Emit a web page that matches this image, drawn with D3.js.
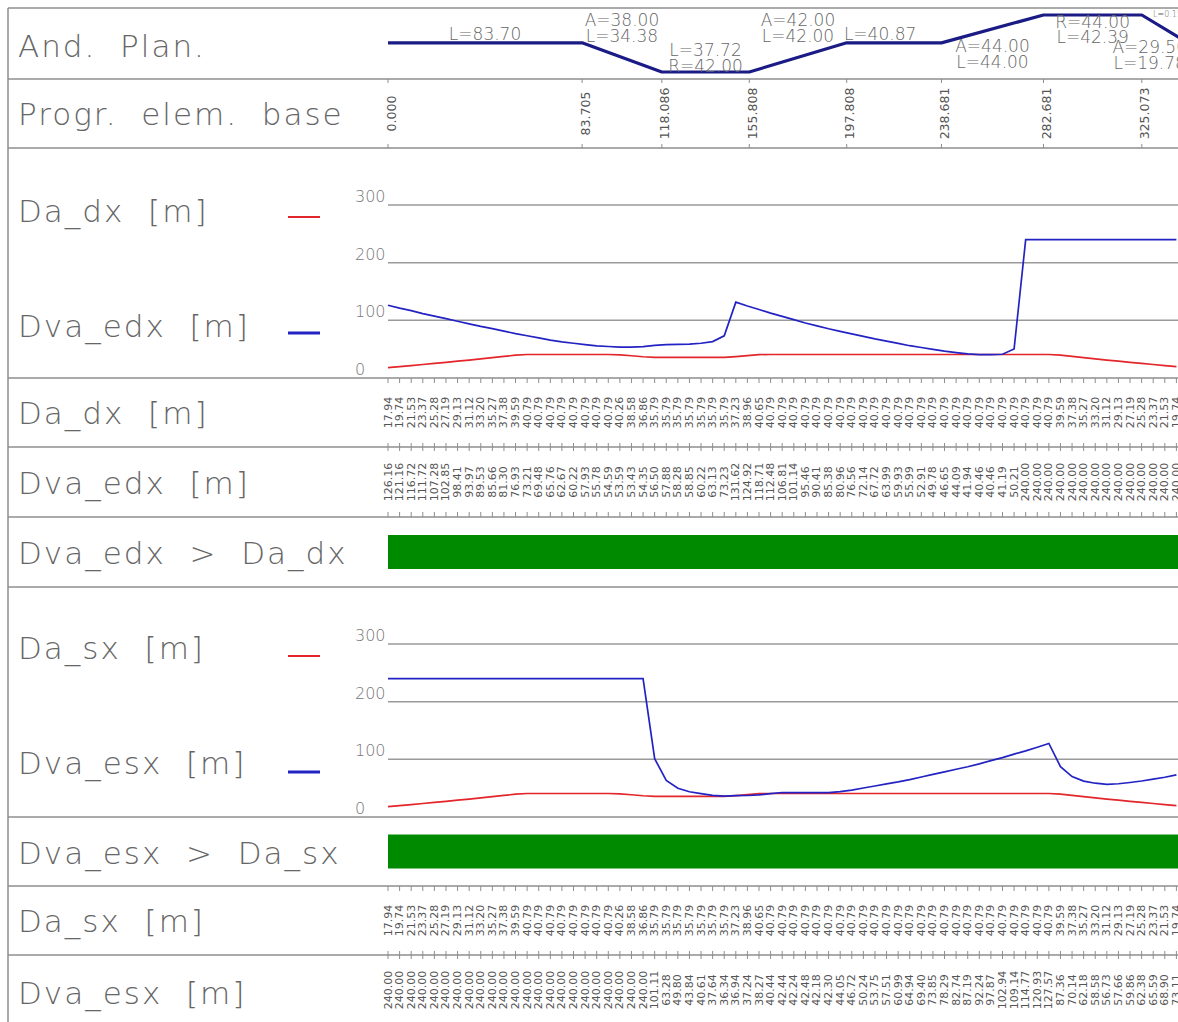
<!DOCTYPE html>
<html>
<head>
<meta charset="utf-8">
<script src="https://cdn.jsdelivr.net/npm/d3@7"></script>
<style>
  body { margin: 0; background: #fff; overflow: hidden; }
  svg { display: block; }
  .row-title { font-family: "DejaVu Sans", sans-serif; font-weight: 200; font-size: 31px; fill: #666; letter-spacing: 2px; white-space: pre; }
  .plan-label { font-family: "DejaVu Sans", sans-serif; font-weight: 200; font-size: 17px; fill: #666; }
  .base-label { font-family: "DejaVu Sans", sans-serif; font-size: 12.5px; fill: #555; }
  .value-label { font-family: "DejaVu Sans", sans-serif; font-size: 11px; fill: #555; }
  .y-label { font-family: "DejaVu Sans", sans-serif; font-weight: 200; font-size: 16px; fill: #777; }
  .rule { stroke: #8e8e8e; stroke-width: 1.5; fill: none; }
  .grid { stroke: #9a9a9a; stroke-width: 1.5; }
</style>
</head>
<body>
<div id="chart"></div>
<script>
/* global d3 */

// data
const stations = d3.range(0, 345, 5); // one check every 5 m, 0 ... 340 visible

const daDx = [17.94, 19.74, 21.53, 23.37, 25.28, 27.19, 29.13, 31.12, 33.20, 35.27, 37.38, 39.59,
  40.79, 40.79, 40.79, 40.79, 40.79, 40.79, 40.79, 40.79, 40.26, 38.58, 36.86,
  35.79, 35.79, 35.79, 35.79, 35.79, 35.79, 35.79, 37.23, 38.96, 40.65,
  40.79, 40.79, 40.79, 40.79, 40.79, 40.79, 40.79, 40.79, 40.79, 40.79, 40.79, 40.79, 40.79,
  40.79, 40.79, 40.79, 40.79, 40.79, 40.79, 40.79, 40.79, 40.79, 40.79, 40.79, 40.79,
  39.59, 37.38, 35.27, 33.20, 31.12, 29.13, 27.19, 25.28, 23.37, 21.53, 19.74];

const dvaEdx = [126.16, 121.16, 116.72, 111.72, 107.28, 102.85, 98.41, 93.97, 89.53, 85.66,
  81.30, 76.93, 73.21, 69.48, 65.76, 62.67, 60.22, 57.93, 55.78, 54.59,
  53.59, 53.43, 54.35, 56.50, 57.88, 58.28, 58.85, 60.22, 63.13, 73.23,
  131.62, 124.92, 118.71, 112.48, 106.81, 101.14, 95.46, 90.41, 85.38, 80.96,
  76.56, 72.14, 67.72, 63.99, 59.93, 55.99, 52.91, 49.78, 46.65, 44.09,
  41.94, 40.46, 40.46, 41.19, 50.21,
  240.00, 240.00, 240.00, 240.00, 240.00, 240.00, 240.00, 240.00, 240.00, 240.00,
  240.00, 240.00, 240.00, 240.00];

const daSx = [17.94, 19.74, 21.53, 23.37, 25.28, 27.19, 29.13, 31.12, 33.20, 35.27, 37.38, 39.59,
  40.79, 40.79, 40.79, 40.79, 40.79, 40.79, 40.79, 40.79, 40.26, 38.58, 36.86,
  35.79, 35.79, 35.79, 35.79, 35.79, 35.79, 35.79, 37.23, 38.96, 40.65,
  40.79, 40.79, 40.79, 40.79, 40.79, 40.79, 40.79, 40.79, 40.79, 40.79, 40.79, 40.79, 40.79,
  40.79, 40.79, 40.79, 40.79, 40.79, 40.79, 40.79, 40.79, 40.79, 40.79, 40.79, 40.79,
  39.59, 37.38, 35.27, 33.20, 31.12, 29.13, 27.19, 25.28, 23.37, 21.53, 19.74];

const dvaEsx = [240.00, 240.00, 240.00, 240.00, 240.00, 240.00, 240.00, 240.00, 240.00, 240.00,
  240.00, 240.00, 240.00, 240.00, 240.00, 240.00, 240.00, 240.00, 240.00, 240.00,
  240.00, 240.00, 240.00,
  101.11, 63.28, 49.80, 43.84, 40.61, 37.64, 36.34, 36.94, 37.24, 38.27,
  40.44, 42.44, 42.24, 42.48, 42.18, 42.30, 44.05, 46.72, 50.24, 53.75,
  57.51, 60.99, 64.94, 69.40, 73.85, 78.29, 82.74, 87.19, 92.24, 97.87,
  102.94, 109.14, 114.77, 120.93, 127.57, 87.36, 70.14, 62.18, 58.58, 56.73,
  57.66, 59.86, 62.38, 65.59, 68.90, 73.11];

// plan elements (progressive of each vertex, signed radius, null = straight)
const baseStations = [0, 83.705, 118.086, 155.808, 197.808, 238.681, 282.681, 325.073, 345.000];
const planStations = [0, 83.705, 118.086, 155.808, 197.808, 238.681, 282.681, 325.073, 344.853, 345.000];
const planRadius = [null, null, -42, -42, null, null, 44, 44, null, null];
const planLabels = [["L=83.70"], ["A=38.00", "L=34.38"], ["L=37.72", "R=42.00"], ["A=42.00", "L=42.00"],
  ["L=40.87"], ["A=44.00", "L=44.00"], ["R=44.00", "L=42.39"], ["A=29.50", "L=19.78"], ["L=0.15"]];

const yTicks = [0, 100, 200, 300];

// dimensions
const WIDTH = 1178;
const HEIGHT = 1022;
const LEFT = 8;
const TOP = 8;
const PLOT_LEFT = 388;

// layout of the bands, top and bottom of each
const bands = {
  plan: [TOP, 79],
  base: [79, 148],
  chartDx: [148, 378],
  rowDaDx: [378, 447],
  rowDvaEdx: [447, 517],
  checkDx: [517, 587],
  chartSx: [587, 817],
  checkSx: [817, 886],
  rowDaSx: [886, 955],
  rowDvaEsx: [955, 1025],
};

// where the plan labels sit (baseline of each line, horizontal nudge)
const planLabelY = [[40], [26, 42], [56, 72], [26, 42], [40], [52, 68], [28, 43], [53, 69], [17]];
const planLabelDx = [0, 0, 0, 0, -14, 0, 0, -15, 0];

const RED = '#e3262b';
const BLUE = '#2323c4';
const NAVY = '#1b1b86';
const GREEN = '#008a00';

// scales
const x = d3.scaleLinear().domain([0, 345]).range([PLOT_LEFT, 1188]);
const yPlan = d3.scaleLinear().domain([-1 / 42, 1 / 44]).range([72, 15]);
const yDx = d3.scaleLinear().domain([0, 300]).range([bands.chartDx[1], 205]);
const ySx = d3.scaleLinear().domain([0, 300]).range([bands.chartSx[1], 644]);

const fmt2 = d3.format('.2f');
const fmt3 = d3.format('.3f');

const $svg = d3.select('#chart').append('svg')
  .attr('width', WIDTH)
  .attr('height', HEIGHT);

// frame and row rules
const $rules = $svg.append('g').attr('class', 'g-rules');
$rules.append('line').attr('class', 'rule')
  .attr('x1', LEFT).attr('x2', WIDTH).attr('y1', TOP).attr('y2', TOP);
$rules.append('line').attr('class', 'rule')
  .attr('x1', LEFT).attr('x2', LEFT).attr('y1', TOP).attr('y2', HEIGHT);
$rules.selectAll('line.row')
  .data(Object.values(bands).map(b => b[1]).filter(v => v < HEIGHT))
  .join('line')
  .attr('class', 'rule row')
  .attr('x1', LEFT).attr('x2', WIDTH)
  .attr('y1', d => d).attr('y2', d => d);

// row titles
const titles = [
  ['And.  Plan.', bands.plan[0] + 49],
  ['Progr.  elem.  base', bands.base[0] + 46],
  ['Da_dx  [m]', bands.chartDx[0] + 74],
  ['Dva_edx  [m]', bands.chartDx[0] + 189],
  ['Da_dx  [m]', bands.rowDaDx[0] + 46],
  ['Dva_edx  [m]', bands.rowDvaEdx[0] + 47],
  ['Dva_edx  >  Da_dx', bands.checkDx[0] + 47],
  ['Da_sx  [m]', bands.chartSx[0] + 72],
  ['Dva_esx  [m]', bands.chartSx[0] + 187],
  ['Dva_esx  >  Da_sx', bands.checkSx[0] + 47],
  ['Da_sx  [m]', bands.rowDaSx[0] + 46],
  ['Dva_esx  [m]', bands.rowDvaEsx[0] + 49],
];
$svg.append('g').attr('class', 'g-titles')
  .selectAll('text')
  .data(titles)
  .join('text')
  .attr('class', 'row-title')
  .attr('x', 18)
  .attr('y', d => d[1])
  .text(d => d[0]);

// helper functions
function ticksOn(yLine, up, down, values) {
  $svg.append('g').selectAll('line')
    .data(values)
    .join('line')
    .attr('x1', d => x(d)).attr('x2', d => x(d))
    .attr('y1', yLine - up).attr('y2', yLine + down)
    .attr('stroke', '#8e8e8e')
    .attr('stroke-width', 1);
}

function valueRow(band, values) {
  const yc = (band[0] + band[1]) / 2;
  $svg.append('g').attr('class', 'g-values')
    .selectAll('text')
    .data(values)
    .join('text')
    .attr('class', 'value-label')
    .attr('text-anchor', 'middle')
    .attr('dominant-baseline', 'central')
    .attr('transform', (d, i) => `translate(${x(stations[i])},${yc}) rotate(-90)`)
    .text(d => fmt2(d));
}

function chartBand(band, y, red, blue) {
  const $g = $svg.append('g').attr('class', 'g-chart');

  $g.selectAll('line.grid')
    .data(yTicks.filter(d => d > 0))
    .join('line')
    .attr('class', 'grid')
    .attr('x1', PLOT_LEFT).attr('x2', WIDTH)
    .attr('y1', d => y(d)).attr('y2', d => y(d));

  $g.selectAll('text.y-label')
    .data(yTicks)
    .join('text')
    .attr('class', 'y-label')
    .attr('x', 355)
    .attr('y', d => y(d) - 3)
    .text(d => d);

  const line = d3.line()
    .x((d, i) => x(stations[i]))
    .y(d => y(d));

  $g.append('path')
    .datum(red)
    .attr('d', line)
    .attr('fill', 'none')
    .attr('stroke', RED)
    .attr('stroke-width', 1.7);

  $g.append('path')
    .datum(blue)
    .attr('d', line)
    .attr('fill', 'none')
    .attr('stroke', BLUE)
    .attr('stroke-width', 1.7);

  // legend dashes
  $g.append('line')
    .attr('x1', 288).attr('x2', 320)
    .attr('y1', band[0] + 69).attr('y2', band[0] + 69)
    .attr('stroke', RED).attr('stroke-width', 2);
  $g.append('line')
    .attr('x1', 288).attr('x2', 320)
    .attr('y1', band[0] + 185).attr('y2', band[0] + 185)
    .attr('stroke', BLUE).attr('stroke-width', 3);
}

function checkBand(band) {
  const yc = (band[0] + band[1]) / 2;
  $svg.append('rect')
    .attr('x', x(0))
    .attr('y', yc - 17)
    .attr('width', x(345) - x(0))
    .attr('height', 34)
    .attr('fill', GREEN);
}

// plan curvature diagram
const planLine = d3.line()
  .x(d => x(d[0]))
  .y(d => yPlan(d[1] === null ? 0 : 1 / d[1]));

$svg.append('path')
  .datum(planStations.map((s, i) => [s, planRadius[i]]))
  .attr('d', planLine)
  .attr('fill', 'none')
  .attr('stroke', NAVY)
  .attr('stroke-width', 3.2)
  .attr('stroke-linejoin', 'round');

const $planText = $svg.append('g').attr('class', 'g-plan-labels');
planLabels.forEach((lines, i) => {
  const mid = (planStations[i] + planStations[i + 1]) / 2;
  const small = i === planLabels.length - 1;
  lines.forEach((t, j) => {
    $planText.append('text')
      .attr('class', 'plan-label')
      .attr('x', small ? 1153 : x(mid) + planLabelDx[i])
      .attr('y', planLabelY[i][j])
      .attr('text-anchor', small ? 'start' : 'middle')
      .style('font-size', small ? '8px' : null)
      .text(t);
  });
});

// progressive of element vertices
ticksOn(bands.base[0], 0, 4, baseStations);
ticksOn(bands.base[1], 4, 0, baseStations);
$svg.append('g').attr('class', 'g-base')
  .selectAll('text')
  .data(baseStations)
  .join('text')
  .attr('class', 'base-label')
  .attr('text-anchor', 'middle')
  .attr('dominant-baseline', 'central')
  .attr('transform', d => `translate(${x(d) + 3},${(bands.base[0] + bands.base[1]) / 2}) rotate(-90)`)
  .text(d => fmt3(d));

// right side
chartBand(bands.chartDx, yDx, daDx, dvaEdx);
ticksOn(bands.rowDaDx[0], 0, 5, stations);
ticksOn(bands.rowDaDx[1], 4, 4, stations);
ticksOn(bands.rowDvaEdx[1], 5, 0, stations);
valueRow(bands.rowDaDx, daDx);
valueRow(bands.rowDvaEdx, dvaEdx);
checkBand(bands.checkDx);

chartBand(bands.chartSx, ySx, daSx, dvaEsx);
checkBand(bands.checkSx);
ticksOn(bands.rowDaSx[0], 0, 5, stations);
ticksOn(bands.rowDaSx[1], 4, 4, stations);
valueRow(bands.rowDaSx, daSx);
valueRow(bands.rowDvaEsx, dvaEsx);
</script>
</body>
</html>
